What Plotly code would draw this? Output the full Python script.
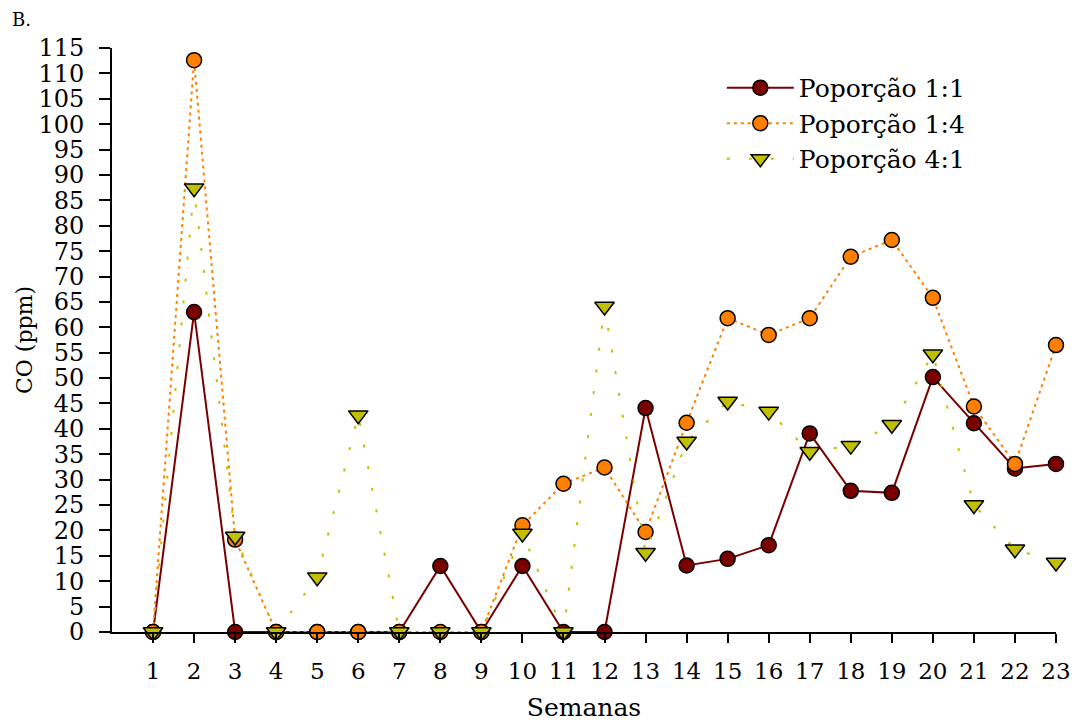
import plotly.graph_objects as go

semanas = list(range(1, 24))
prop_1_1 = [0, 63.0, 0, 0, 0, 0, 0, 13.0, 0, 13.0, 0, 0, 44.1, 13.1, 14.4, 17.1, 39.1, 27.8, 27.4, 50.2, 41.1, 32.2, 33.1]
prop_1_4 = [0, 112.6, 18.2, 0, 0, 0, 0, 0, 0, 21.0, 29.2, 32.4, 19.7, 41.2, 61.8, 58.5, 61.8, 73.9, 77.2, 65.8, 44.4, 33.1, 56.5]
prop_4_1 = [0, 87.4, 18.8, 0, 10.8, 42.7, 0, 0, 0, 19.4, 0, 64.1, 15.6, 37.5, 45.4, 43.4, 35.5, 36.7, 40.8, 54.7, 25.0, 16.3, 13.7]
y_ticks = list(range(0, 120, 5))

FONT = "DejaVu Serif, serif"

fig = go.Figure()
fig.add_trace(go.Scatter(
    x=semanas, y=prop_1_1, name="Poporção 1:1", mode="lines+markers",
    line=dict(color="#7a0000", width=2),
    marker=dict(symbol="circle", size=15, color="#7a0000", line=dict(color="black", width=1.5)),
    cliponaxis=False,
))
fig.add_trace(go.Scatter(
    x=semanas, y=prop_1_4, name="Poporção 1:4", mode="lines+markers",
    line=dict(color="#ff8000", width=2, dash="3px,4px"),
    marker=dict(symbol="circle", size=15, color="#ff8000", line=dict(color="black", width=1.5)),
    cliponaxis=False,
))
fig.add_trace(go.Scatter(
    x=semanas, y=prop_4_1, name="Poporção 4:1", mode="lines+markers",
    line=dict(color="#c0c000", width=2, dash="3px,19px"),
    marker=dict(symbol="triangle-down", size=17, color="#c0c000", line=dict(color="black", width=1.5)),
    cliponaxis=False,
))

fig.update_layout(
    width=1077, height=725,
    margin=dict(l=112, r=21, t=48, b=93),
    paper_bgcolor="white", plot_bgcolor="white",
    font=dict(family=FONT, size=24, color="black"),
    showlegend=True,
    legend=dict(x=0.646, y=0.971, xanchor="left", yanchor="top",
                font=dict(family=FONT, size=25), bgcolor="rgba(0,0,0,0)",
                itemwidth=67, tracegroupgap=0),
    xaxis=dict(
        range=[0, 23], tickvals=semanas, ticktext=[str(s) for s in semanas],
        showline=True, linecolor="black", linewidth=2,
        ticks="outside", ticklen=9, tickwidth=2, tickcolor="black",
        ticklabelstandoff=8,
        showgrid=False, zeroline=False,
        title=dict(text="Semanas", font=dict(size=25), standoff=16),
        automargin=False,
        tickfont=dict(size=23),
    ),
    yaxis=dict(
        range=[0, 115], tickvals=y_ticks,
        showline=True, linecolor="black", linewidth=2,
        ticks="outside", ticklen=11, tickwidth=2, tickcolor="black",
        ticklabelstandoff=10,
        showgrid=False, zeroline=False,
        title=dict(text="CO (ppm)", font=dict(size=22), standoff=0),
        automargin=False,
        tickfont=dict(size=24),
    ),
    annotations=[dict(text="B.", xref="paper", yref="paper", x=-0.108, y=1.048,
                      xanchor="left", yanchor="middle", showarrow=False,
                      font=dict(family=FONT, size=18))],
)

fig.write_html("out.html")
